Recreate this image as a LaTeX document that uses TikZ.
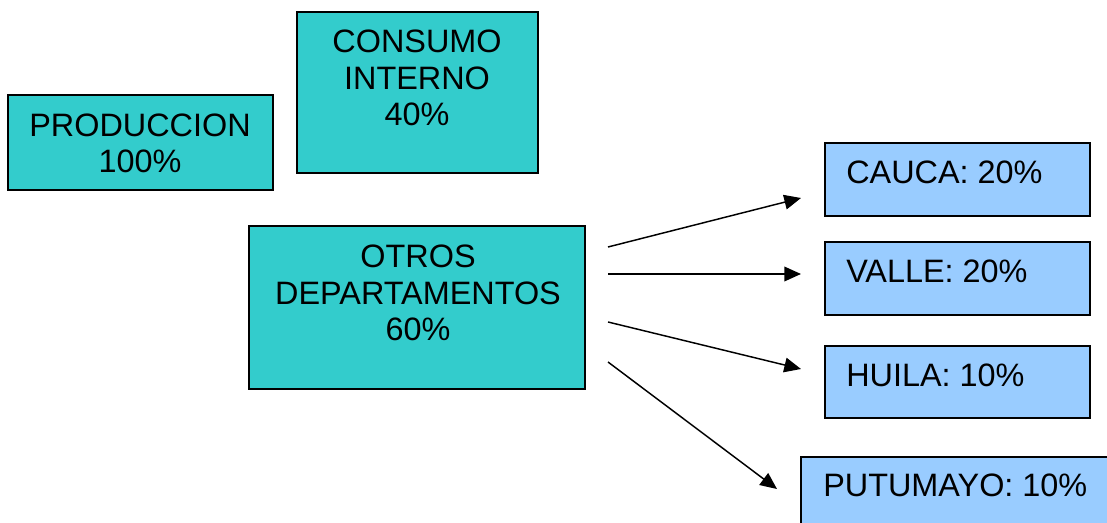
\documentclass[tikz,border=0pt]{standalone}
\usepackage{fontspec}
\setmainfont{Liberation Sans}
\usetikzlibrary{arrows.meta,fit}
\definecolor{tealfill}{HTML}{33CCCC}
\definecolor{bluefill}{HTML}{99CCFF}
\tikzset{
  tealbox/.style={draw=black, line width=1.1pt, fill=tealfill, inner sep=0pt},
  bluebox/.style={draw=black, line width=1.1pt, fill=bluefill, inner sep=0pt},
  lbl/.style={font=\fontsize{24.3pt}{27.5pt}\selectfont, inner sep=0pt, align=center},
  conn/.style={line width=1.1pt, -{Triangle[length=12.5pt,width=11pt]}}
}
\begin{document}
\begin{tikzpicture}[x=0.75pt,y=-0.75pt]
\useasboundingbox (0,0) rectangle (1107,523);
% teal boxes
\node[tealbox, fit={(8,95) (273,190)}] (prod) {};
\node[lbl] (prodt) at (140,143.5) {PRODUCCION\\100\%};
\node[tealbox, fit={(297,12) (538,173)}] (cons) {};
\node[lbl] (const) at (417,78) {CONSUMO\\INTERNO\\40\%};
\node[tealbox, fit={(249,226) (585,389)}] (otros) {};
\node[lbl] (otrost) at (418,293) {OTROS\\DEPARTAMENTOS\\60\%};
% blue boxes
\node[bluebox, fit={(825,143) (1090,216)}] (cauca) {};
\node[lbl, anchor=base west] (caucat) at (846,184) {CAUCA: 20\%};
\node[bluebox, fit={(825,242) (1090,315)}] (valle) {};
\node[lbl, anchor=base west] (vallet) at (846,283) {VALLE: 20\%};
\node[bluebox, fit={(825,346) (1090,418)}] (huila) {};
\node[lbl, anchor=base west] (huilat) at (846,387) {HUILA: 10\%};
\node[bluebox, fit={(801,457) (1115,535)}] (putu) {};
\node[lbl, anchor=base west] (putut) at (823,497) {PUTUMAYO: 10\%};
% arrow endpoints
\coordinate (s1) at (608,247);
\coordinate (s2) at (608,274);
\coordinate (s3) at (608,322);
\coordinate (s4) at (608,362);
\coordinate (e1) at (801,198);
\coordinate (e2) at (801,274);
\coordinate (e3) at (801,369);
\coordinate (e4) at (777,489);
\draw[conn] (s1) -- (e1);
\draw[conn] (s2) -- (e2);
\draw[conn] (s3) -- (e3);
\draw[conn] (s4) -- (e4);
\end{tikzpicture}
\end{document}
